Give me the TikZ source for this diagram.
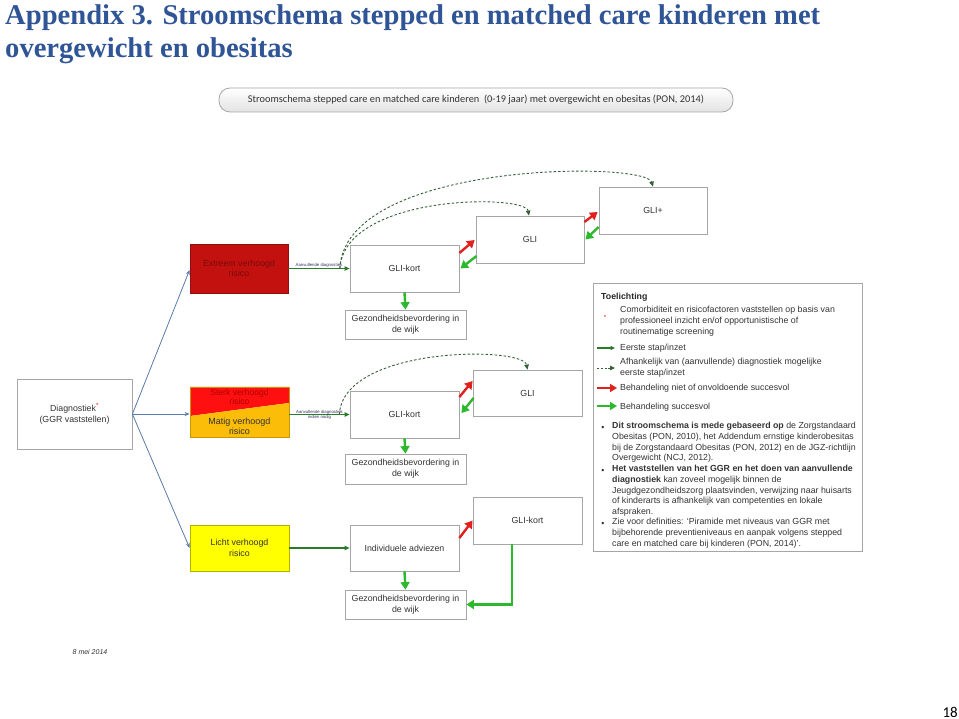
\documentclass[tikz,border=0pt]{standalone}
\usepackage{fontspec}
\setmainfont{Liberation Sans}
\newfontfamily\titlefont{Liberation Serif}
\newfontfamily\calfont{Carlito}
\usetikzlibrary{arrows.meta,calc}
\definecolor{titleblue}{HTML}{2F5597}
\definecolor{boxgray}{HTML}{A6A6A6}
\definecolor{txt}{HTML}{333333}
\definecolor{dkgreen}{HTML}{2A7A2A}
\definecolor{brgreen}{HTML}{2DB82D}
\definecolor{brred}{HTML}{E0201C}
\definecolor{connblue}{HTML}{5A7AA8}
\definecolor{extred}{HTML}{C3110F}
\definecolor{extborder}{HTML}{8E1010}
\definecolor{extext}{HTML}{7A0A0A}
\definecolor{sterkred}{HTML}{FF1010}
\definecolor{sterktext}{HTML}{B00000}
\definecolor{matig}{HTML}{FBBD08}
\definecolor{geel}{HTML}{FFFF00}
\definecolor{dashgreen}{HTML}{35603A}
\definecolor{labelblue}{HTML}{30305A}
\begin{document}
\begin{tikzpicture}[x=1pt,y=-1pt,
  box/.style={draw=boxgray, line width=0.8pt, fill=white, inner sep=1pt, align=center, text=txt, font=\fontsize{8.8}{10.6}\selectfont},
  firststep/.style={draw=dkgreen, line width=1.1pt, -{Triangle[length=5pt,width=4.5pt]}},
  maybestep/.style={draw=dashgreen, line width=0.9pt, dash pattern=on 2.5pt off 2pt, -{Triangle[length=5pt,width=4.5pt]}},
  fail/.style={draw=brred, line width=2.4pt, -{Triangle[length=7.5pt,width=9pt]}},
  success/.style={draw=brgreen, line width=2.4pt, -{Triangle[length=7.5pt,width=9pt]}},
  risk/.style={draw=connblue, line width=0.8pt, -{Stealth[length=5pt,width=4pt]}},
  tinylabel/.style={font=\fontsize{4.3}{5}\selectfont, text=labelblue, inner sep=0.5pt, align=center},
  legtxt/.style={font=\fontsize{8.8}{10.8}\selectfont, text=txt, inner sep=0pt, align=left, anchor=north west},
]
\useasboundingbox (0,0) rectangle (959,719);

% title
\node[anchor=base west, inner sep=0pt, text=titleblue, font=\titlefont\bfseries\fontsize{28.6}{30}\selectfont] (title1) at (5,25) {Appendix 3. Stroomschema stepped en matched care kinderen met};
\node[anchor=base west, inner sep=0pt, text=titleblue, font=\titlefont\bfseries\fontsize{28.6}{30}\selectfont] (title2) at (5,58) {overgewicht en obesitas};

% banner
\node[draw=boxgray, line width=0.8pt, rounded corners=11pt, top color=white, bottom color=gray!22, minimum width=514pt, minimum height=24pt, inner sep=0pt, text=txt, font=\calfont\fontsize{10.35}{11}\selectfont] (banner) at (476,100) {Stroomschema stepped care en matched care kinderen\ \ (0-19 jaar) met overgewicht en obesitas (PON, 2014)};

% diagnostiek
\node[box, minimum width=115pt, minimum height=70pt] (diag) at (74.5,414) {Diagnostiek\textsuperscript{\textcolor{red}{*}}\\(GGR vaststellen)};

% risk boxes
\node[box, draw=extborder, fill=extred, text=extext, minimum width=98pt, minimum height=49pt] (ext) at (239,268.5) {Extreem verhoogd\\risico};

\fill[sterkred] (190,387) -- (289,387) -- (289,403) -- (190,416) -- cycle;
\fill[matig] (190,416) -- (289,403) -- (289,437) -- (190,437) -- cycle;
\node[draw=matig!80!black, line width=0.8pt, minimum width=99pt, minimum height=50pt, inner sep=0pt] (sm) at (239.5,412) {};
\node[text=sterktext, align=center, inner sep=0pt, font=\fontsize{8.6}{9.6}\selectfont] (sterk) at (239.5,397) {Sterk verhoogd\\risico};
\node[text=txt, align=center, inner sep=0pt, font=\fontsize{9}{10.4}\selectfont] (matigtxt) at (239.5,426) {Matig verhoogd\\risico};

\node[box, draw=geel!70!black, fill=geel, minimum width=99pt, minimum height=46pt] (licht) at (239.5,548) {Licht verhoogd\\risico};

% care boxes
\node[box, minimum width=109pt, minimum height=47pt] (gk1) at (404.5,268.5) {GLI-kort};
\node[box, minimum width=121pt, minimum height=29pt] (gz1) at (405.5,324.5) {Gezondheidsbevordering in\\de wijk};
\node[box, minimum width=108pt, minimum height=47pt] (gli1) at (530,239.5) {GLI};
\node[box, minimum width=108pt, minimum height=47pt] (glip) at (653,210.5) {GLI+};

\node[box, minimum width=109pt, minimum height=47pt] (gk2) at (404.5,414.5) {GLI-kort};
\node[box, minimum width=121pt, minimum height=30pt] (gz2) at (405.5,469) {Gezondheidsbevordering in\\de wijk};
\node[box, minimum width=109pt, minimum height=46pt] (gli2) at (527.5,393) {GLI};

\node[box, minimum width=109pt, minimum height=46pt] (ind) at (404.5,548) {Individuele adviezen};
\node[box, minimum width=121pt, minimum height=29pt] (gz3) at (405.5,604.5) {Gezondheidsbevordering in\\de wijk};
\node[box, minimum width=109pt, minimum height=47pt] (gk3) at (527.5,520.5) {GLI-kort};

% diagnostiek -> risk
\draw[risk] (diag.east) -- ($(ext.west)+(0,1.5)$);
\draw[risk] (diag.east) -- ($(sm.west)+(0,2)$);
\draw[risk] (diag.east) -- (licht.west);

% first steps
\draw[firststep] (ext.east) -- node[tinylabel, above=0.3pt] (lab1) {Aanvullende diagnostiek} (gk1.west);
\draw[firststep] (sm.east |- gk2.west) -- node[tinylabel] (lab2) {Aanvullende diagnostiek\\indien nodig} (gk2.west);
\draw[firststep] (licht.east) -- (ind.west);

% dashed possible first steps
\coordinate (d1) at ($(ext.east)!0.84!(gk1.west)$);
\coordinate (d2) at ($(sm.east |- gk2.west)!0.83!(gk2.west)$);
\draw[maybestep] (d1) .. controls (345,161) and (645,161) .. (glip.north);
\draw[maybestep] (d1) .. controls (345,194) and (525,194) .. ($(gli1.north)+(-1,0)$);
\draw[maybestep] (d2) .. controls (343,346) and (523,346) .. (gli2.north);

% success down arrows
\draw[success] (gk1.south) -- (gz1.north);
\draw[success] (gk2.south) -- (gz2.north);
\draw[success] (ind.south) -- (gz3.north);
\draw[success] ($(gk3.south)+(-15.5,0)$) |- (gz3.east);

% fail / success between levels
\draw[fail] ($(gk1.east)+(0,-15.5)$) -- ($(gli1.west)+(-1,0.5)$);
\draw[success] ($(gli1.west)+(1,16.5)$) -- ($(gk1.east)+(1,0)$);
\draw[fail] ($(gli1.east)+(0,-17.5)$) -- ($(glip.west)+(-1,1.5)$);
\draw[success] ($(glip.west)+(0,16.5)$) -- ($(gli1.east)+(1,0)$);
\draw[fail] ($(gk2.east)+(0,-17.5)$) -- ($(gli2.west)+(0,-12)$);
\draw[success] ($(gli2.west)+(1,5)$) -- ($(gk2.east)+(2,-1.5)$);
\draw[fail] ($(ind.east)+(0,-10)$) -- (gk3.west);

% toelichting box
\node[draw=boxgray, line width=0.8pt, minimum width=269pt, minimum height=268pt, inner sep=0pt] (toel) at (727.5,417) {};
\node[anchor=west, inner sep=0pt, font=\bfseries\fontsize{8.8}{10}\selectfont, text=black!85] (toelh) at (601,297.5) {Toelichting};
\node[anchor=center, inner sep=0pt, text=red, font=\fontsize{6}{6}\selectfont] (ast) at (605,317) {*};
\node[legtxt] (c1) at (620,306) {Comorbiditeit en risicofactoren vaststellen op basis van\\professioneel inzicht en/of opportunistische of\\routinematige screening};

\draw[firststep, -{Triangle[length=4.5pt,width=4pt]}] (597,348) -- (615,348);
\node[legtxt, anchor=west] (l1) at (620,348) {Eerste stap/inzet};
\draw[maybestep, dash pattern=on 2pt off 1.8pt] (597,368) -- (615,368);
\node[legtxt] (l2) at (620,358) {Afhankelijk van (aanvullende) diagnostiek mogelijke\\eerste stap/inzet};
\draw[fail, line width=2.2pt, -{Triangle[length=7pt,width=8pt]}] (597,388) -- (617,388);
\node[legtxt, anchor=west] (l3) at (620,388) {Behandeling niet of onvoldoende succesvol};
\draw[success, line width=2.2pt, -{Triangle[length=7pt,width=8pt]}] (597,406) -- (617,406);
\node[legtxt, anchor=west] (l4) at (620,407) {Behandeling succesvol};

\node[legtxt, anchor=center] (b1) at (603,428) {\textbullet};
\node[legtxt] (p1) at (612,422) {\textbf{Dit stroomschema is mede gebaseerd op} de Zorgstandaard\\Obesitas (PON, 2010), het Addendum ernstige kinderobesitas\\bij de Zorgstandaard Obesitas (PON, 2012) en de JGZ-richtlijn\\Overgewicht (NCJ, 2012).};
\node[legtxt, anchor=center] (b2) at (603,471) {\textbullet};
\node[legtxt] (p2) at (612,465) {\textbf{Het vaststellen van het GGR en het doen van aanvullende}\\\textbf{diagnostiek} kan zoveel mogelijk binnen de\\Jeugdgezondheidszorg plaatsvinden, verwijzing naar huisarts\\of kinderarts is afhankelijk van competenties en lokale\\afspraken.};
\node[legtxt, anchor=center] (b3) at (603,524) {\textbullet};
\node[legtxt] (p3) at (612,518) {Zie voor definities: `Piramide met niveaus van GGR met\\bijbehorende preventieniveaus en aanpak volgens stepped\\care en matched care bij kinderen (PON, 2014)'.};

% date and page number
\node[inner sep=0pt, text=txt, font=\itshape\fontsize{7}{8}\selectfont] (date) at (90,652) {8 mei 2014};
\node[anchor=base east, inner sep=0pt, text=black, font=\calfont\fontsize{15}{16}\selectfont] (pnum) at (958,717) {18};
\end{tikzpicture}
\end{document}
